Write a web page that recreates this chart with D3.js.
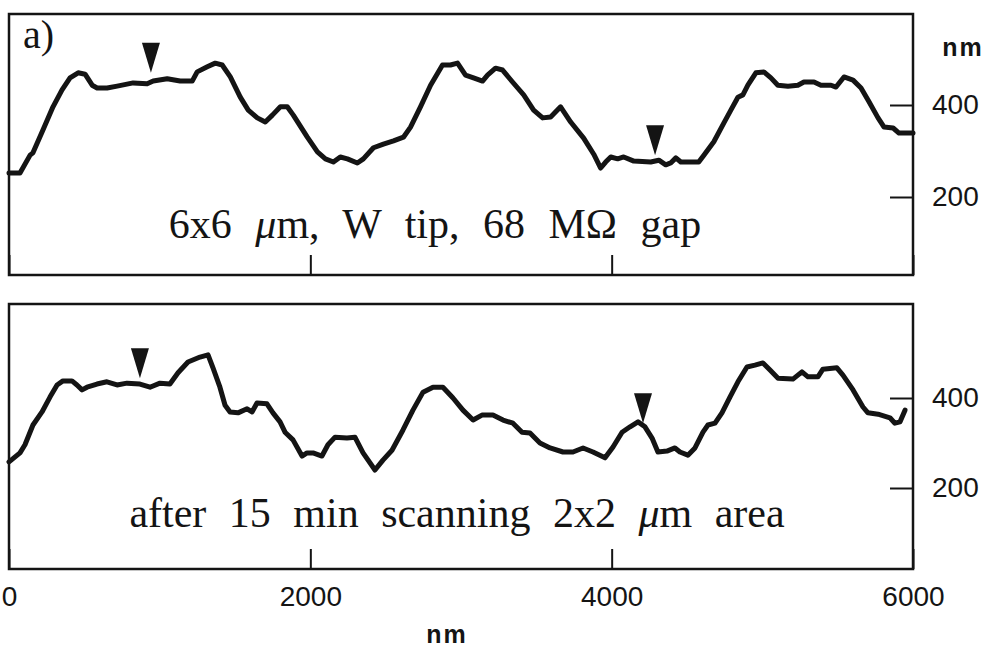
<!DOCTYPE html>
<html>
<head>
<meta charset="utf-8">
<script src="https://cdn.jsdelivr.net/npm/d3@7"></script>
<style>
	body { margin: 0; background: #fff; }
	svg { display: block; }
</style>
</head>
<body>
<script>
const width = 1005
const height = 656

// axis ticks (nm)
const xTicks = [0, 2000, 4000, 6000]
const yTicks = [200, 400]

// line profiles: [position nm, height nm]
const profileTop = [
	[0, 252], [73, 252], [140, 291], [159, 296], [226, 346], [292, 396], [352, 433], [405, 459],
	[459, 470], [505, 467], [552, 443], [585, 437], [651, 437], [718, 441], [824, 448], [917, 446],
	[957, 452], [1050, 457], [1136, 452], [1216, 452], [1249, 472], [1316, 483], [1369, 491], [1415, 487],
	[1469, 461], [1535, 417], [1588, 389], [1648, 372], [1701, 363], [1748, 378], [1801, 396], [1847, 396],
	[1887, 378], [1980, 330], [2047, 298], [2100, 283], [2153, 276], [2199, 287], [2246, 283], [2312, 274],
	[2352, 283], [2419, 307], [2485, 315], [2552, 322], [2618, 330], [2665, 352], [2731, 396], [2798, 443],
	[2877, 487], [2930, 487], [2977, 491], [3030, 465], [3083, 459], [3143, 452], [3176, 465], [3229, 480],
	[3276, 476], [3342, 450], [3416, 422], [3482, 389], [3542, 372], [3595, 374], [3661, 396], [3728, 363],
	[3814, 328], [3881, 293], [3927, 263], [3960, 276], [3994, 287], [4040, 283], [4080, 287], [4147, 278],
	[4259, 276], [4313, 280], [4359, 270], [4392, 274], [4426, 285], [4459, 276], [4578, 276], [4612, 291],
	[4678, 320], [4745, 361], [4791, 389], [4838, 417], [4871, 422], [4904, 443], [4957, 470], [5010, 472],
	[5057, 459], [5103, 443], [5170, 441], [5236, 443], [5276, 450], [5343, 450], [5389, 443], [5456, 443],
	[5489, 439], [5542, 461], [5602, 454], [5655, 437], [5708, 407], [5768, 372], [5808, 352], [5868, 350],
	[5907, 339], [5967, 339], [6000, 339],
]

const profileBottom = [
	[0, 258], [73, 278], [106, 296], [159, 340], [219, 369], [272, 402], [319, 429], [358, 438],
	[418, 438], [451, 429], [485, 418], [518, 424], [584, 431], [650, 436], [717, 429], [783, 433],
	[869, 431], [936, 424], [1002, 433], [1068, 431], [1122, 456], [1188, 480], [1268, 491], [1321, 496],
	[1354, 467], [1400, 424], [1434, 384], [1467, 369], [1520, 367], [1580, 376], [1613, 369], [1646, 389],
	[1712, 387], [1752, 367], [1799, 347], [1832, 324], [1885, 307], [1945, 271], [1978, 278], [2018, 278],
	[2077, 271], [2117, 296], [2164, 313], [2243, 311], [2296, 313], [2350, 278], [2429, 240], [2482, 262],
	[2542, 284], [2615, 329], [2681, 373], [2748, 413], [2814, 424], [2880, 424], [2947, 400], [3013, 373],
	[3080, 351], [3139, 362], [3212, 362], [3279, 351], [3345, 344], [3405, 324], [3458, 322], [3524, 300],
	[3591, 289], [3677, 280], [3743, 280], [3810, 289], [3876, 280], [3956, 267], [4009, 291], [4069, 324],
	[4122, 336], [4175, 347], [4221, 336], [4268, 311], [4307, 280], [4367, 282], [4420, 289], [4453, 280],
	[4506, 273], [4553, 289], [4606, 324], [4639, 340], [4686, 344], [4732, 367], [4785, 402], [4838, 436],
	[4898, 469], [4951, 473], [5004, 478], [5051, 462], [5104, 444], [5203, 442], [5263, 458], [5303, 447],
	[5369, 447], [5402, 464], [5495, 467], [5535, 451], [5602, 418], [5668, 380], [5701, 367], [5768, 364],
	[5847, 356], [5880, 344], [5914, 347], [5947, 373],
]

// arrowhead markers, tip at [position nm, height nm]
const markersTop = [[942, 470], [4288, 291]]
const markersBottom = [[869, 444], [4208, 344]]

const captionTop = '6x6 μm, W tip, 68 MΩ gap'
const captionBottom = 'after 15 min scanning 2x2 μm area'
const panelLabel = 'a)'
const unitLabel = 'nm'

const sans = "'Liberation Sans', Arial, Helvetica, sans-serif"
const serif = "'Liberation Serif', 'Times New Roman', serif"
const ink = '#141414'

const svg = d3.select('body').append('svg').attr('width', width).attr('height', height)
svg.append('rect').attr('width', width).attr('height', height).attr('fill', '#fff')

const x = d3.scaleLinear().domain([0, 6000]).range([9, 913])

const panels = [
	{ top: 14, bottom: 275, y200: 197, y400: 105, data: profileTop, markers: markersTop,
		caption: captionTop, capX: 435, capY: 238, spacing: 13, xLabels: false },
	{ top: 304, bottom: 569, y200: 488, y400: 398, data: profileBottom, markers: markersBottom,
		caption: captionBottom, capX: 457, capY: 527, spacing: 12, xLabels: true },
]

panels.forEach(drawPanel)

function drawPanel(p) {
	const y = d3.scaleLinear().domain([200, 400]).range([p.y200, p.y400])
	const g = svg.append('g')

	// profile line
	const line = d3.line()
		.x(d => x(d[0]))
		.y(d => y(d[1]))
	g.append('path')
		.datum(p.data)
		.attr('d', line)
		.attr('fill', 'none')
		.attr('stroke', ink)
		.attr('stroke-width', 5)
		.attr('stroke-linejoin', 'round')
		.attr('stroke-linecap', 'round')

	// arrowheads pointing down at the marked spots
	g.selectAll('.marker')
		.data(p.markers)
		.enter()
		.append('path')
		.attr('d', d => {
			const cx = x(d[0]), ty = y(d[1])
			return `M${cx - 9},${ty - 30}L${cx + 9},${ty - 30}L${cx},${ty}Z`
		})
		.attr('fill', ink)

	// frame
	g.append('rect')
		.attr('x', x.range()[0])
		.attr('y', p.top)
		.attr('width', x.range()[1] - x.range()[0])
		.attr('height', p.bottom - p.top)
		.attr('fill', 'none')
		.attr('stroke', ink)
		.attr('stroke-width', 2.5)

	// right height axis, ticks inward
	const yAxis = d3.axisRight(y).tickValues(yTicks).tickSizeInner(-23).tickSizeOuter(0).tickPadding(19)
	const ya = g.append('g').attr('transform', `translate(${x.range()[1]},0)`).call(yAxis)
	ya.select('.domain').remove()
	ya.selectAll('line').attr('stroke', ink).attr('stroke-width', 2)
	ya.selectAll('text').attr('font-family', sans).attr('font-size', 28).attr('fill', ink)

	// bottom position axis, ticks inward
	const xAxis = d3.axisBottom(x).tickValues(xTicks).tickSizeInner(-20).tickSizeOuter(0).tickPadding(17)
		.tickFormat(p.xLabels ? d3.format('d') : '')
	const xa = g.append('g').attr('transform', `translate(0,${p.bottom})`).call(xAxis)
	xa.select('.domain').remove()
	xa.selectAll('line').attr('stroke', ink).attr('stroke-width', 2)
	xa.selectAll('text').attr('font-family', sans).attr('font-size', 28).attr('fill', ink)

	// caption inside the panel, mu set slanted as in the original
	const cap = g.append('text')
		.attr('x', p.capX)
		.attr('y', p.capY)
		.attr('text-anchor', 'middle')
		.attr('font-family', serif)
		.attr('font-size', 42)
		.style('word-spacing', p.spacing + 'px')
		.attr('fill', ink)
	p.caption.split(/(μ)/).forEach(part => {
		cap.append('tspan')
			.attr('font-style', part === 'μ' ? 'italic' : null)
			.text(part)
	})
}

svg.append('text')
	.attr('x', 23)
	.attr('y', 48)
	.attr('font-family', serif)
	.attr('font-size', 40)
	.attr('fill', ink)
	.text(panelLabel)

svg.append('text')
	.attr('x', 963)
	.attr('y', 56)
	.attr('text-anchor', 'middle')
	.attr('font-family', sans)
	.attr('font-weight', 'bold')
	.attr('font-size', 25)
	.attr('letter-spacing', 2)
	.attr('fill', ink)
	.text(unitLabel)

svg.append('text')
	.attr('x', 447)
	.attr('y', 643)
	.attr('text-anchor', 'middle')
	.attr('font-family', sans)
	.attr('font-weight', 'bold')
	.attr('font-size', 25)
	.attr('letter-spacing', 2)
	.attr('fill', ink)
	.text(unitLabel)
</script>
</body>
</html>
